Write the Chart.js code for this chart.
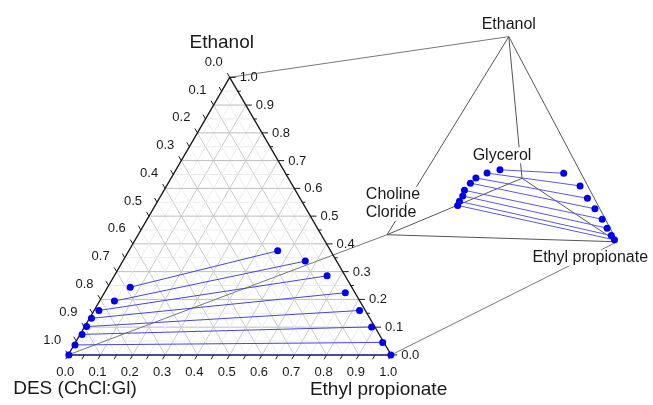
<!DOCTYPE html>
<html>
<head>
<meta charset="utf-8">
<script src="https://cdn.jsdelivr.net/npm/chart.js@4"></script>
<style>
  html, body { margin: 0; padding: 0; background: #fff; }
  #myChart { display: block; }
</style>
</head>
<body>
<canvas id="myChart" width="653" height="405"></canvas>
<script>
// ternary tie lines (mass fractions), DES-rich phase and ester-rich phase
var desEthanol   = [0.244, 0.194, 0.160, 0.132, 0.102, 0.074, 0.036, 0.000];
var desEster     = [0.070, 0.046, 0.015, 0.006, 0.006, 0.006, 0.003, 0.002];
var esterEthanol = [0.375, 0.338, 0.285, 0.224, 0.160, 0.101, 0.045, 0.000];
var esterEster   = [0.461, 0.565, 0.659, 0.746, 0.822, 0.889, 0.951, 0.999];

// quaternary view (choline chloride, glycerol, ethanol, ethyl propionate)
var q1Choline  = [0.196, 0.275, 0.338, 0.375, 0.422, 0.438, 0.463, 0.478];
var q1Glycerol = [0.564, 0.512, 0.503, 0.501, 0.486, 0.503, 0.511, 0.520];
var q1Ethanol  = [0.170, 0.167, 0.144, 0.118, 0.086, 0.053, 0.023, 0.000];
var q1Ester    = [0.070, 0.046, 0.015, 0.006, 0.006, 0.006, 0.003, 0.002];
var q2Choline  = [0.000, 0.000, 0.000, 0.000, 0.000, 0.000, 0.000, 0.000];
var q2Glycerol = [0.281, 0.124, 0.112, 0.080, 0.051, 0.047, 0.043, 0.030];
var q2Ethanol  = [0.247, 0.234, 0.177, 0.136, 0.094, 0.052, 0.017, 0.000];
var q2Ester    = [0.472, 0.642, 0.711, 0.784, 0.855, 0.901, 0.940, 0.970];

var tickLabels = ['0.0', '0.1', '0.2', '0.3', '0.4', '0.5', '0.6', '0.7', '0.8', '0.9', '1.0'];

var S = Math.sqrt(3) / 2;
function tern(et, ep) { return {x: ep + et / 2, y: et * S}; }

// corners of the tetrahedron sketch, in the same plane units
var vEthanol = {x: 1.364, y: 0.993};
var vCholine = {x: 0.987, y: 0.375};
var vGlycerol = {x: 1.405, y: 0.551};
var vEster = {x: 1.700, y: 0.353};
function quat(ch, gl, et, ep) {
    return {
        x: ch * vCholine.x + gl * vGlycerol.x + et * vEthanol.x + ep * vEster.x,
        y: ch * vCholine.y + gl * vGlycerol.y + et * vEthanol.y + ep * vEster.y
    };
}

var datasets = [];
for (var i = 0; i < desEthanol.length; i++) {
    datasets.push({
        data: [tern(desEthanol[i], desEster[i]), tern(esterEthanol[i], esterEster[i])],
        showLine: true, borderColor: '#4646d2', borderWidth: 1,
        pointRadius: 3.5, pointBackgroundColor: '#0000f0', pointBorderWidth: 0
    });
    datasets.push({
        data: [quat(q1Choline[i], q1Glycerol[i], q1Ethanol[i], q1Ester[i]),
               quat(q2Choline[i], q2Glycerol[i], q2Ethanol[i], q2Ester[i])],
        showLine: true, borderColor: '#5a5ad6', borderWidth: 1,
        pointRadius: 3.5, pointBackgroundColor: '#0000f0', pointBorderWidth: 0
    });
}

var FONT = '"Liberation Sans", Arial, sans-serif';

var frame = {
    id: 'frame',
    beforeDatasetsDraw: function(chart) {
        var ctx = chart.ctx, xs = chart.scales.x, ys = chart.scales.y;
        function px(p) { return [xs.getPixelForValue(p.x), ys.getPixelForValue(p.y)]; }
        function line(a, b) {
            var pa = px(a), pb = px(b);
            ctx.beginPath(); ctx.moveTo(pa[0], pa[1]); ctx.lineTo(pb[0], pb[1]); ctx.stroke();
        }
        ctx.save();
        ctx.lineWidth = 1;
        // grid, minor then major
        for (var n = 1; n < 20; n++) {
            var k = n / 20;
            var major = n % 2 === 0;
            ctx.strokeStyle = major ? '#bdbdbd' : '#ebebeb';
            line(tern(k, 0), tern(k, 1 - k));            // ethanol const
            ctx.strokeStyle = major ? '#cbcbcb' : '#ebebeb';
            line(tern(0, k), tern(1 - k, k));            // ester const
            line(tern(1 - k, 0), tern(0, 1 - k));        // DES const
        }
        // connectors to the sketch
        ctx.strokeStyle = '#777';
        line(tern(1, 0), vEthanol);
        line(tern(0, 0), vCholine);
        line(tern(0, 1), vEster);
        // tetrahedron edges
        ctx.strokeStyle = '#555';
        line(vEthanol, vCholine); line(vEthanol, vGlycerol); line(vEthanol, vEster);
        line(vCholine, vGlycerol); line(vGlycerol, vEster); line(vCholine, vEster);
        // triangle border
        ctx.strokeStyle = '#1a1a1a';
        ctx.lineWidth = 1.4;
        ctx.beginPath();
        var a = px(tern(0, 0)), b = px(tern(0, 1)), c = px(tern(1, 0));
        ctx.moveTo(a[0], a[1]); ctx.lineTo(b[0], b[1]); ctx.lineTo(c[0], c[1]); ctx.closePath(); ctx.stroke();
        // ticks
        ctx.lineWidth = 1;
        for (var m = 0; m <= 20; m++) {
            var v = m / 20, big = m % 2 === 0;
            var p = px(tern(v, 1 - v));   // right axis, ethanol
            ctx.beginPath(); ctx.moveTo(p[0], p[1]); ctx.lineTo(p[0] + (big ? 6 : 3), p[1]); ctx.stroke();
            p = px(tern(1 - v, 0));       // left axis, DES
            ctx.beginPath(); ctx.moveTo(p[0], p[1]); ctx.lineTo(p[0] - 2.5, p[1] - 4.3); ctx.stroke();
            p = px(tern(0, v));           // bottom axis, ester
            ctx.beginPath(); ctx.moveTo(p[0], p[1]); ctx.lineTo(p[0] - 2.5, p[1] + 4.3); ctx.stroke();
        }
        // tick labels
        ctx.fillStyle = '#1a1a1a';
        ctx.font = '13px ' + FONT;
        ctx.textBaseline = 'middle';
        tickLabels.forEach(function(t, j) {
            var v = j / 10;
            var p = px(tern(v, 1 - v));
            ctx.textAlign = 'left';
            ctx.fillText(t, p[0] + 10, p[1] + 0.5);
            p = px(tern(1 - v, 0));
            ctx.textAlign = 'center';
            ctx.fillText(t, p[0] - 16, p[1] - 15);
            p = px(tern(0, v));
            ctx.fillText(t, p[0] - 3, p[1] + 17);
        });
        // axis titles
        ctx.font = '19px ' + FONT;
        var top = px(tern(1, 0)), bl = px(tern(0, 0)), br = px(tern(0, 1));
        ctx.textAlign = 'center';
        ctx.fillText('Ethanol', top[0] - 8, top[1] - 35);
        ctx.textAlign = 'left';
        ctx.fillText('DES (ChCl:Gl)', bl[0] - 55, bl[1] + 34);
        ctx.textAlign = 'right';
        ctx.fillText('Ethyl propionate', br[0] + 56, br[1] + 35);
        ctx.restore();
    },
    afterDatasetsDraw: function(chart) {
        var ctx = chart.ctx, xs = chart.scales.x, ys = chart.scales.y;
        function label(text, p, dx, dy) {
            var x = xs.getPixelForValue(p.x) + dx, y = ys.getPixelForValue(p.y) + dy;
            var w = ctx.measureText(text).width;
            ctx.fillStyle = '#fff';
            ctx.fillRect(x - w / 2 - 1, y - 8, w + 2, 16);
            ctx.fillStyle = '#1a1a1a';
            ctx.fillText(text, x, y);
        }
        ctx.save();
        ctx.font = '16px ' + FONT;
        ctx.textAlign = 'center';
        ctx.textBaseline = 'middle';
        label('Ethanol', vEthanol, 0, -12);
        label('Glycerol', vGlycerol, -20, -23);
        label('Choline', vCholine, 6, -40);
        label('Cloride', vCholine, 4, -22);
        label('Ethyl propionate', vEster, -27, 16);
        ctx.restore();
    }
};

var ctx = document.getElementById('myChart').getContext('2d');
var myChart = new Chart(ctx, {
    type: 'scatter',
    data: { datasets: datasets },
    options: {
        responsive: false,
        animation: false,
        layout: { padding: 0 },
        plugins: { legend: { display: false }, tooltip: { enabled: false } },
        scales: {
            x: { type: 'linear', display: false, min: -65 / 327, max: 588 / 327 },
            y: { type: 'linear', display: false, min: -47 / 327, max: 358 / 327 }
        }
    },
    plugins: [frame]
});
</script>
</body>
</html>
